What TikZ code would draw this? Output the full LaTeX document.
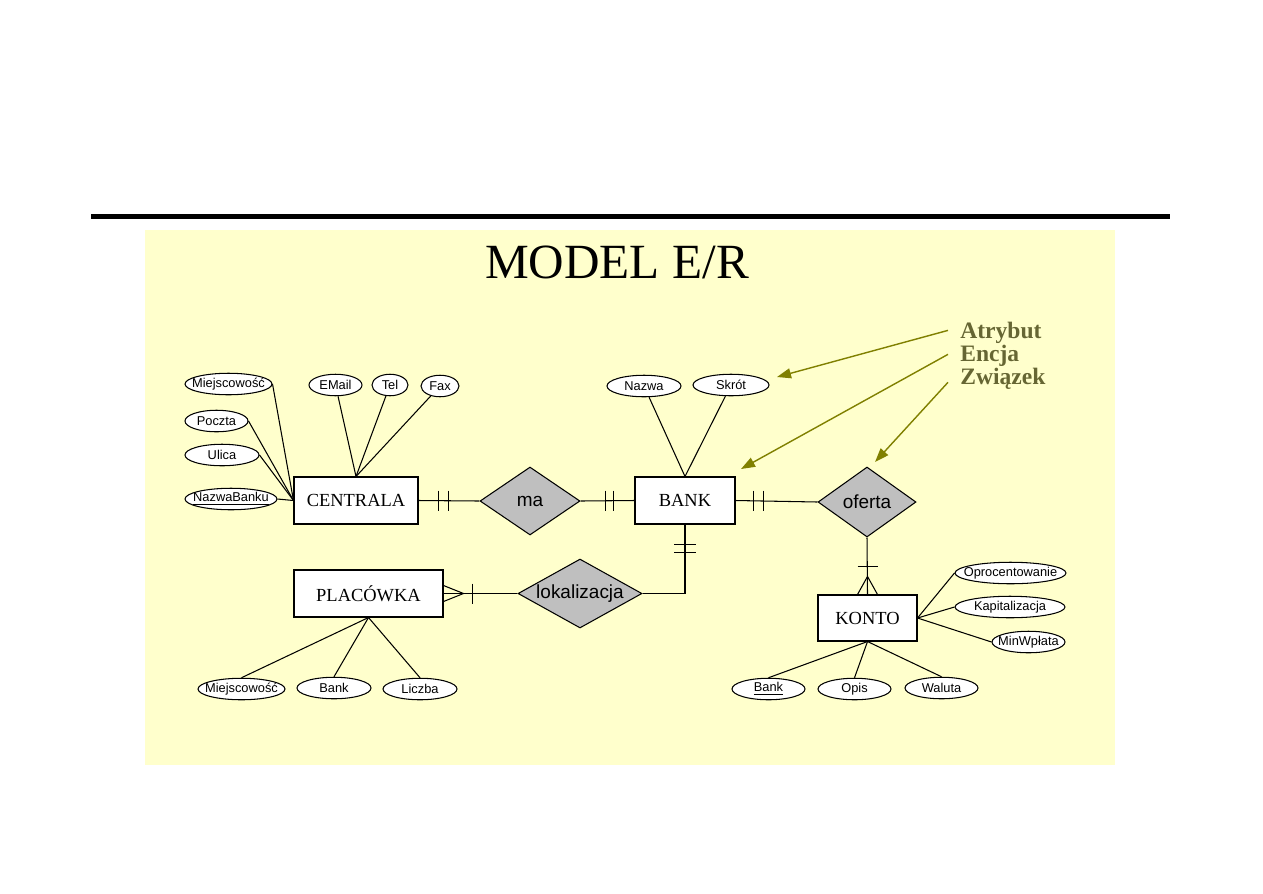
\documentclass[tikz,border=0pt]{standalone}
\usepackage{fontspec}
\setmainfont{Liberation Serif}
\setsansfont{Liberation Sans}
\usetikzlibrary{arrows.meta,positioning,shapes.geometric,calc}
\definecolor{bgyellow}{HTML}{FFFFCC}
\definecolor{olivearrow}{HTML}{808000}
\definecolor{olivetext}{HTML}{666633}

\begin{document}
\begin{tikzpicture}[
    x=0.02cm, y=-0.02cm,
    entity/.style={draw=black, line width=0.6pt, fill=white, inner sep=0pt,
        minimum height=0.94cm, font=\fontsize{10.5}{12}\selectfont},
    relation/.style={diamond, draw=black, line width=0.6pt, fill=gray!50,
        inner sep=0pt, aspect=1.8, font=\sffamily\fontsize{10.8}{12}\selectfont},
    attr/.style={ellipse, draw=black, line width=0.6pt, fill=white,
        inner xsep=-1.2cm, inner ysep=0pt, minimum height=0.43cm,
        font=\sffamily\fontsize{7.3}{8}\selectfont},
    link/.style={line width=0.6pt, draw=black},
    hint/.style={-{Triangle[length=0.28cm, width=0.2cm]}, line width=0.8pt, draw=olivearrow},
    legend/.style={font=\bfseries\fontsize{13.4}{15}\selectfont, text=olivetext,
        anchor=base west, inner sep=0pt}
]
\useasboundingbox (0,0) rectangle (1263,893);

% slide frame
\draw[line width=2.85pt] (91,216.5) -- (1170,216.5);
\fill[bgyellow] (145,230) rectangle (1115,765);

\node[anchor=base, inner sep=0pt, font=\fontsize{28}{30}\selectfont] (title) at (617,278) {MODEL E/R};

% entities and relations
\node[entity, minimum width=2.48cm] (centrala) at (356,500.5) {CENTRALA};
\node[entity, minimum width=2.0cm] (bank) at (685,500.5) {BANK};
\node[entity, minimum width=2.98cm] (placowka) at (368.5,593.5) {PLACÓWKA};
\node[entity, minimum width=1.98cm, minimum height=0.92cm] (konto) at (867.5,618) {KONTO};

\node[relation, minimum width=2.0cm, minimum height=1.36cm] (ma) at (530,501) {ma};
\node[relation, minimum width=1.96cm, minimum height=1.4cm] (oferta) at (867,502) {oferta};
\node[relation, minimum width=2.48cm, minimum height=1.38cm] (lokalizacja) at (580,593.5) {lokalizacja};

% attributes
\node[attr, minimum width=1.74cm] (cmiejsc) at (228.5,384) {Miejscowość};
\node[attr, minimum width=1.26cm] (poczta) at (216.5,421) {Poczta};
\node[attr, minimum width=1.48cm] (ulica) at (222,455) {Ulica};
\node[attr, minimum width=1.84cm] (nazwabanku) at (231,499) {\underline{NazwaBanku}};
\node[attr, minimum width=1.06cm] (email) at (335.5,385) {EMail};
\node[attr, minimum width=0.72cm] (tel) at (390,385) {Tel};
\node[attr, minimum width=0.76cm] (fax) at (440,386) {Fax};

\node[attr, minimum width=1.48cm] (nazwa) at (644,386) {Nazwa};
\node[attr, minimum width=1.52cm] (skrot) at (731,385) {Skrót};

\node[attr, minimum width=2.22cm] (oprocent) at (1010.5,573) {Oprocentowanie};
\node[attr, minimum width=2.2cm] (kapital) at (1010,607) {Kapitalizacja};
\node[attr, minimum width=1.46cm] (minwplata) at (1028.5,642) {MinWpłata};
\node[attr, minimum width=1.46cm] (kbank) at (768.5,689) {\underline{Bank}};
\node[attr, minimum width=1.46cm] (opis) at (854.5,689) {Opis};
\node[attr, minimum width=1.46cm] (waluta) at (941.5,688) {Waluta};

\node[attr, minimum width=1.74cm] (pmiejsc) at (241.5,689) {Miejscowość};
\node[attr, minimum width=1.48cm] (pbank) at (334,688) {Bank};
\node[attr, minimum width=1.48cm] (liczba) at (420,689) {Liczba};

% attribute links
\draw[link] (cmiejsc.east) -- (centrala.west);
\draw[link] (poczta.east) -- (centrala.west);
\draw[link] (ulica.east) -- (centrala.west);
\draw[link] (nazwabanku.east) -- (centrala.west);
\draw[link] (email) -- (centrala.north);
\draw[link] (tel) -- (centrala.north);
\draw[link] (fax) -- (centrala.north);
\draw[link] (nazwa) -- (bank.north);
\draw[link] (skrot) -- (bank.north);
\draw[link] (oprocent.west) -- (konto.east);
\draw[link] (kapital.west) -- (konto.east);
\draw[link] (minwplata.west) -- (konto.east);
\draw[link] (kbank.north) -- (konto.south);
\draw[link] (opis.north) -- (konto.south);
\draw[link] (waluta.north) -- (konto.south);
\draw[link] (pmiejsc.north) -- (placowka.south);
\draw[link] (pbank.north) -- (placowka.south);
\draw[link] (liczba.north) -- (placowka.south);

% relationship links
\draw[link] (centrala.east) -- (ma.west);
\draw[link] (ma.east) -- (bank.west);
\draw[link] (bank.east) -- (oferta.west);
\draw[link] (oferta.south) -- (konto.north);
\draw[link] (bank.south) |- (lokalizacja.east);
\draw[link] (lokalizacja.west) -- (placowka.east);

% cardinality marks
\draw[link] ($(centrala.east)+(20,-10)$) -- ++(0,20);
\draw[link] ($(centrala.east)+(30,-10)$) -- ++(0,20);
\draw[link] ($(bank.west)+(-29,-10)$) -- ++(0,20);
\draw[link] ($(bank.west)+(-21,-10)$) -- ++(0,20);
\draw[link] ($(bank.east)+(18,-10)$) -- ++(0,20);
\draw[link, line width=1.1pt] ($(bank.east)+(28,-10)$) -- ++(0,20);
\draw[link] ($(bank.south)+(-11,20)$) -- ++(22,0);
\draw[link] ($(bank.south)+(-11,28)$) -- ++(22,0);
\draw[link] ($(placowka.east)+(29,-10)$) -- ++(0,20);
\draw[link] ($(placowka.east)+(0,-8)$) -- ($(placowka.east)+(20,0)$) -- ($(placowka.east)+(0,8)$);
\draw[link] ($(konto.north)+(-10,-28)$) -- ++(20,0);
\draw[link] ($(konto.north)+(-10,0)$) -- ($(konto.north)+(0,-18)$) -- ($(konto.north)+(10,0)$);

% legend
\node[legend] (atrybut) at (960,338) {Atrybut};
\node[legend] (encja) at (960,361) {Encja};
\node[legend] (zwiazek) at (960,384) {Związek};
\coordinate (atrpt) at (777,377);
\coordinate (encpt) at (741,469);
\coordinate (zwpt) at (875,462);
\draw[hint] ($(atrybut.west)+(-12,-2)$) -- (atrpt);
\draw[hint] ($(encja.west)+(-12,-1)$) -- (encpt);
\draw[hint] ($(zwiazek.west)+(-12,4)$) -- (zwpt);

\end{tikzpicture}
\end{document}
